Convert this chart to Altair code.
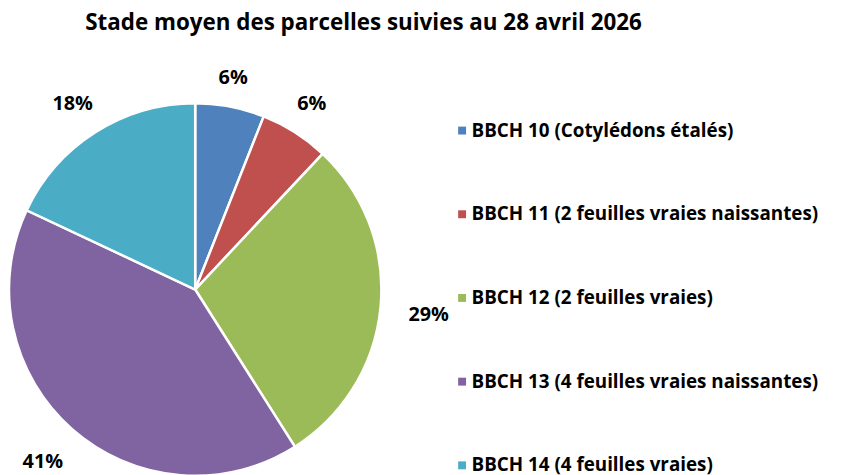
import altair as alt
import pandas as pd

stages = [
    "BBCH 10 (Cotylédons étalés)",
    "BBCH 11 (2 feuilles vraies naissantes)",
    "BBCH 12 (2 feuilles vraies)",
    "BBCH 13 (4 feuilles vraies naissantes)",
    "BBCH 14  (4 feuilles vraies)",
]
values = [6, 6, 29, 41, 18]
colors = ["#4F81BD", "#C0504D", "#9BBB59", "#8064A2", "#4BACC6"]

df = pd.DataFrame({
    "stage": stages,
    "value": values,
    "order": list(range(len(stages))),
    "label": [f"{v}%" for v in values],
})

FONT = "Open Sans"
CX, CY = 189, 282
RX, RY = 240, 220  # label ring (outside-end labels sit on a slightly wide ring)

pie = alt.Chart(df).mark_arc(radius=188, stroke="white", strokeWidth=2.5).encode(
    theta=alt.Theta("value:Q", stack=True),
    order=alt.Order("order:Q"),
    x=alt.value(CX),
    y=alt.value(CY),
    color=alt.Color(
        "stage:N",
        sort=stages,
        scale=alt.Scale(domain=stages, range=colors),
        legend=alt.Legend(
            orient="none", legendX=449, legendY=112, title=None,
            symbolType="square", symbolSize=64, symbolStrokeWidth=0,
            labelFontSize=19, labelFont=FONT, labelFontWeight="bold",
            labelColor="black", rowPadding=64.5, labelLimit=600, labelOffset=0,
        ),
    ),
)

text = (
    alt.Chart(df)
    .transform_joinaggregate(total="sum(value)")
    .transform_window(cum="sum(value)", sort=[alt.SortField("order")], frame=[None, 0])
    .transform_calculate(mid="2*PI*(datum.cum - datum.value/2)/datum.total")
    .transform_calculate(
        r=f"{RX}*{RY}/sqrt(pow({RY}*sin(datum.mid),2)+pow({RX}*cos(datum.mid),2))"
    )
    .mark_text(fontSize=20, font=FONT, fontWeight="bold", color="black")
    .encode(
        theta=alt.Theta("mid:Q", scale=None, stack=None),
        radius=alt.Radius("r:Q", scale=None),
        x=alt.value(CX - 3),
        y=alt.value(CY + 3),
        text="label:N",
    )
)

chart = (pie + text).properties(
    width=835,
    height=467,
    autosize=alt.AutoSizeParams(type="none"),
    padding=0,
    title=alt.TitleParams(
        "Stade moyen des parcelles suivies au 28 avril 2026",
        anchor="start", dx=82, dy=29, fontSize=22.6, font=FONT, fontWeight="bold", color="black",
    ),
).configure_view(stroke=None)

chart.save("out.html", embed_options={"renderer": "svg", "actions": False})
